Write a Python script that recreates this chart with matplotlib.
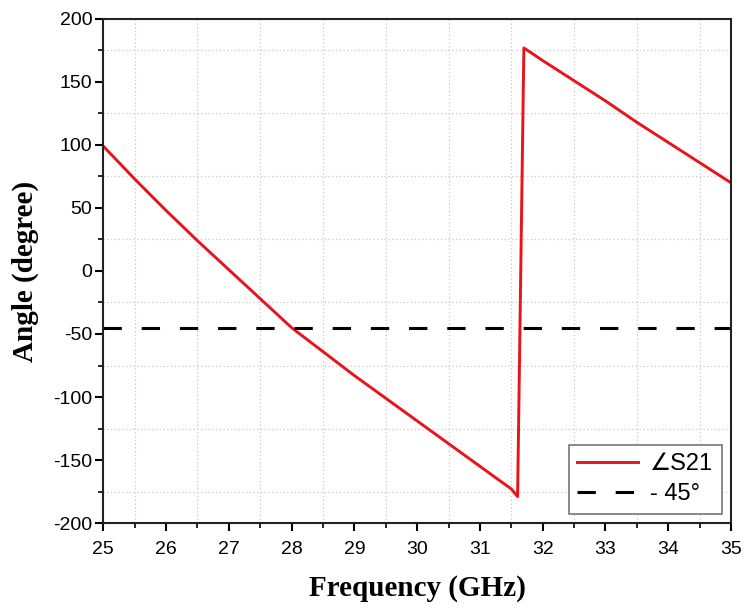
import matplotlib
matplotlib.use("Agg")
import matplotlib.pyplot as plt
from matplotlib.ticker import MultipleLocator

# S21 phase (GHz, degree)
freq_ghz = [25.0, 25.5, 26.0, 26.5, 27.0, 27.5, 28.0, 28.5, 29.0, 29.5, 30.0,
            30.5, 31.0, 31.5, 31.6, 31.7, 32.0, 32.5, 33.0, 33.5, 34.0, 34.5, 35.0]
angle_deg = [99, 73, 48, 24, 1, -22, -45, -64, -83, -101, -119,
             -137, -155, -173, -179, 177, 167, 151, 135, 118, 102, 86, 70]
ref_angle = -45

plt.rcParams["font.family"] = ["Liberation Sans", "DejaVu Sans"]
plt.rcParams["axes.unicode_minus"] = False

fig = plt.figure(figsize=(7.47, 6.12), dpi=100)
ax = fig.add_axes([0.1383, 0.1454, 0.8403, 0.8236])

ax.plot(freq_ghz, angle_deg, color="#e8131b", lw=2.1, label="\u2220S21")
ax.axhline(ref_angle, color="black", lw=2.2, dashes=(6, 6.5), label="- 45°")

ax.set_xlim(25, 35)
ax.set_ylim(-200, 200)
ax.xaxis.set_major_locator(MultipleLocator(1))
ax.xaxis.set_minor_locator(MultipleLocator(0.5))
ax.yaxis.set_major_locator(MultipleLocator(50))
ax.yaxis.set_minor_locator(MultipleLocator(25))
ax.grid(which="minor", color="#c8c8c8", ls=(0, (1, 2)), lw=0.9)
ax.grid(which="major", visible=False)

for s in ax.spines.values():
    s.set_linewidth(1.5)
    s.set_color("#222222")
ax.tick_params(which="major", direction="out", length=6, width=1.5,
               labelsize=14, top=False, right=False)
ax.tick_params(axis="x", which="major", pad=7)
ax.tick_params(axis="y", which="major", pad=2)
ax.tick_params(which="minor", direction="out", length=3.5, width=1.2,
               top=False, right=False)

ax.set_xlabel("Frequency (GHz)", family="Liberation Serif", fontweight="bold",
              fontsize=21, labelpad=12)
ax.set_ylabel("Angle (degree)", family="Liberation Serif", fontweight="bold",
              fontsize=21, labelpad=10)

leg = ax.legend(loc="lower right", fancybox=False, framealpha=1,
                edgecolor="#777777", handlelength=2.6, borderpad=0.35,
                labelspacing=0.35, handletextpad=0.5, borderaxespad=0.4,
                prop={"family": ["Liberation Sans", "DejaVu Sans"], "size": 17})
leg.get_frame().set_linewidth(1.2)

plt.savefig("out.png", dpi=100)
